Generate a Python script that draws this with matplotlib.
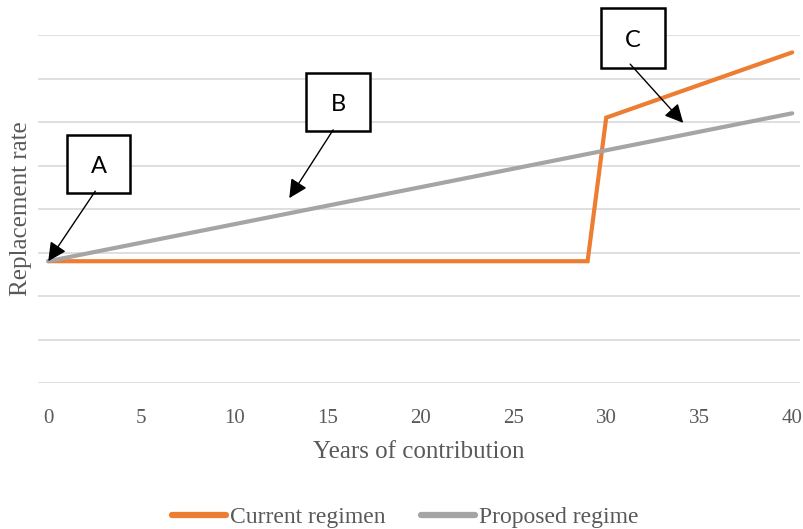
import matplotlib.pyplot as plt
from matplotlib.patches import Rectangle

# data
years_current = [0, 29, 30, 40]
rate_current = [2.8, 2.8, 6.1, 7.6]
years_proposed = [0, 40]
rate_proposed = [2.8, 6.2]
xticks = [0, 5, 10, 15, 20, 25, 30, 35, 40]

# annotation boxes: label, box (x0, y0, x1, y1), arrow start, arrow end
boxes = [
    ("A", (1.02, 4.37, 4.41, 5.70), (2.53, 4.41), (0.0, 2.8)),
    ("B", (13.87, 5.79, 17.31, 7.13), (15.32, 5.82), (12.96, 4.25)),
    ("C", (29.73, 7.24, 33.17, 8.62), (31.29, 7.33), (34.14, 5.98)),
]

orange = "#ED7D31"
grey = "#A5A5A5"
txt = "#595959"

fig = plt.figure(figsize=(8.04, 5.29), dpi=100)
ax = fig.add_axes([38 / 804, 1 - 383 / 529, 762 / 804, 348 / 529])

ax.plot(years_current, rate_current, color=orange, lw=3, label="Current regimen",
        solid_capstyle="round", solid_joinstyle="miter", zorder=3)
ax.plot(years_proposed, rate_proposed, color=grey, lw=3, label="Proposed regime",
        solid_capstyle="round", zorder=3)

ax.set_xlim(-0.55, 40.42)
ax.set_ylim(0, 8)
ax.set_yticks(range(0, 9))
ax.set_yticklabels([])
ax.tick_params(axis="y", length=0)
ax.set_xticks(xticks)
ax.tick_params(axis="x", length=0, pad=19, labelsize=15, labelcolor=txt)
for lab in ax.get_xticklabels():
    lab.set_family("Liberation Serif")
ax.grid(axis="y", color="#D9D9D9", lw=1.2)
for s in ax.spines.values():
    s.set_visible(False)

ax.set_xlabel("Years of contribution", family="Liberation Serif", fontsize=18,
              color=txt, labelpad=9)
ax.set_ylabel("Replacement rate", family="Liberation Serif", fontsize=18,
              color=txt)
ax.yaxis.set_label_coords(-0.008, 0.5)

for label, (x0, y0, x1, y1), start, end in boxes:
    ax.add_patch(Rectangle((x0, y0), x1 - x0, y1 - y0, fill=True, fc="white",
                           ec="black", lw=1.8, clip_on=False, zorder=5))
    ax.text((x0 + x1) / 2, (y0 + y1) / 2 - 0.06, label, ha="center", va="center",
            fontsize=17, family="Lato", color="black", zorder=6, clip_on=False)
    ax.annotate("", xy=end, xytext=start,
                arrowprops=dict(arrowstyle="-|>", color="black", lw=1,
                                mutation_scale=28, shrinkA=0, shrinkB=0),
                zorder=6, annotation_clip=False)

leg = fig.legend(loc="center", bbox_to_anchor=(405 / 804, 1 - 517 / 529),
                 ncol=2, frameon=False, handlelength=2.3, handletextpad=0.15,
                 columnspacing=1.5, prop={"family": "Liberation Serif", "size": 17})
for line in leg.get_lines():
    line.set_linewidth(4.5)
for t in leg.get_texts():
    t.set_color(txt)

fig.savefig("out.png", dpi=100)
